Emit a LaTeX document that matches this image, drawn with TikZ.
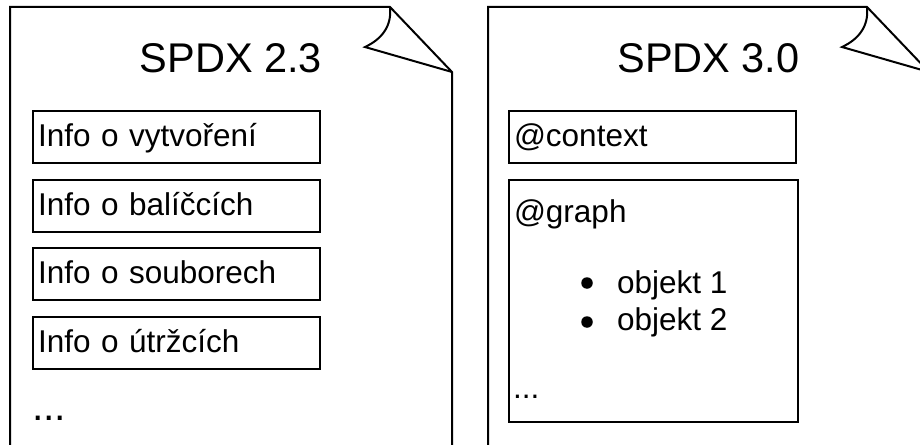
\documentclass[tikz,border=0pt]{standalone}
\usepackage{fontspec}
\setmainfont{Liberation Sans}
\begin{document}
\begin{tikzpicture}[x=1pt,y=-1pt,
  line width=2pt, line join=miter,
  titlefont/.style={font=\fontsize{41.5pt}{48pt}\selectfont},
  bodyfont/.style={font=\fontsize{31.5pt}{37pt}\selectfont},
  sectionbox/.style={draw, rectangle, anchor=north west, bodyfont,
    minimum width=287pt, minimum height=52pt, text width=277pt,
    align=left, inner xsep=5pt, inner ysep=0pt,
    text height=22.5pt, text depth=3pt},
  plain/.style={inner sep=0pt, anchor=base west},
  dot/.style={circle, fill, inner sep=0pt, minimum size=11.5pt}]
\useasboundingbox (0,0) rectangle (920,444);
\clip (0,0) rectangle (920,444);

% SPDX 2.3 document sheet with curled corner
\draw (10,450) -- (10,7) -- (390,7) -- (452,72) -- (452,450);
\draw (390,7) .. controls (392,26) and (382,39) .. (365,47) -- (452,72);

% SPDX 3.0 document sheet with curled corner
\draw (488,450) -- (488,7) -- (867,7) -- (929,72) -- (929,450);
\draw (867,7) .. controls (869,26) and (859,39) .. (842,47) -- (929,72);

% titles
\node[titlefont, anchor=base] (t23) at (231,72) {SPDX 2.3};
\node[titlefont, anchor=base] (t30) at (708.5,72) {SPDX 3.0};

% SPDX 2.3 sections
\node[sectionbox] (tvorba) at (32,110) {Info o vytvoření};
\node[sectionbox] (balicky) at (32,178.5) {Info o balíčcích};
\node[sectionbox] (soubory) at (32,247) {Info o souborech};
\node[sectionbox] (utrzky) at (32,315.5) {Info o útržcích};
\node[plain, font=\fontsize{41pt}{48pt}\selectfont] (dalsi23) at (31,420) {...};

% SPDX 3.0 sections
\node[sectionbox] (context) at (508,110) {@context};
\node[draw, rectangle, anchor=north west, minimum width=289pt,
      minimum height=242pt, inner sep=0pt] (graph) at (508,179) {};
\node[plain, bodyfont] (graphlbl) at (513,222) {@graph};
\node[dot] (b1) at (587,283) {};
\node[plain, bodyfont] (obj1) at (616,293) {objekt 1};
\node[dot] (b2) at (587,322) {};
\node[plain, bodyfont] (obj2) at (616,330) {objekt 2};
\node[plain, bodyfont] (dalsi30) at (512,398) {...};
\end{tikzpicture}
\end{document}
